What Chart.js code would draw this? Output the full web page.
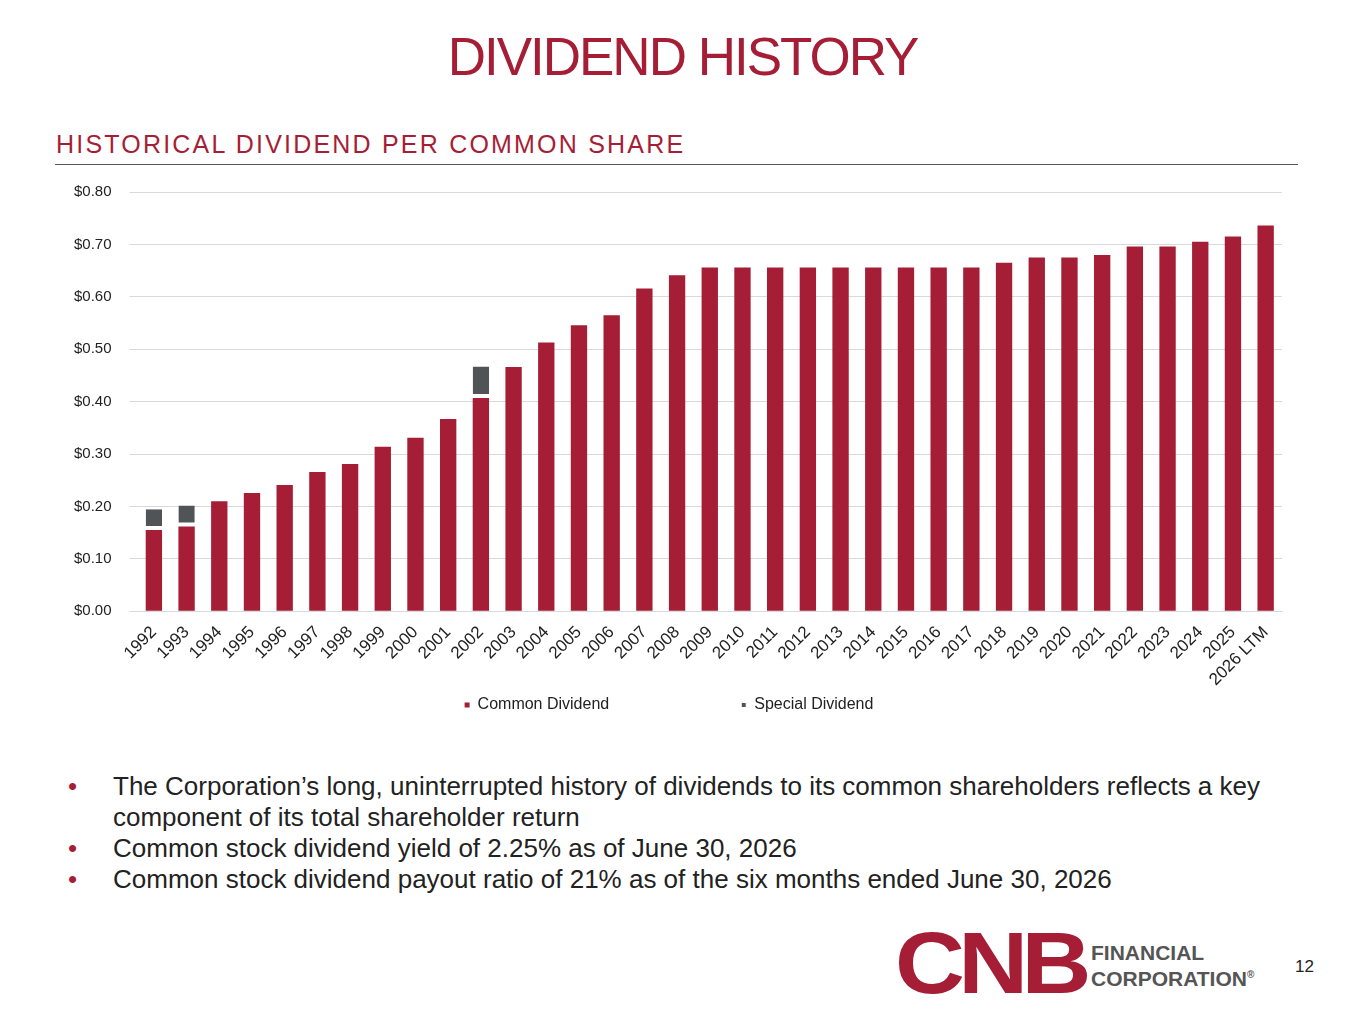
<!DOCTYPE html>
<html>
<head>
<meta charset="utf-8">
<script src="https://cdn.jsdelivr.net/npm/chart.js@4.4.1/dist/chart.umd.min.js"></script>
<style>
  body { margin: 0; width: 1365px; height: 1024px; background: #fff; font-family: "Liberation Sans", Arial, sans-serif; position: relative; overflow: hidden; }
  h1 { position: absolute; top: 26px; left: 0; width: 1365px; text-align: center; margin: 0; font-size: 53px; font-weight: normal; color: #a51e36; letter-spacing: -2px; }
  .sub { position: absolute; top: 130px; left: 56px; font-size: 25px; color: #a51e36; letter-spacing: 2.2px; }
  .rule { position: absolute; top: 164px; left: 55px; width: 1243px; border-top: 1.5px solid #555; }
  #wrap { position: absolute; top: 165px; left: 56px; width: 1232px; height: 558px; }
  ul { position: absolute; top: 771px; left: 68px; width: 1240px; margin: 0; padding: 0; list-style: none; font-size: 26px; color: #222; line-height: 31px; }
  li { position: relative; padding-left: 45px; }
  li::before { content: "•"; position: absolute; left: 0; color: #a51e36; }
  .logo { position: absolute; top: 912px; left: 895px; }
  .cnb { font-size: 88px; font-weight: bold; color: #a51e36; letter-spacing: -6px; display: inline-block; transform: scaleX(1.1); transform-origin: left; }
  .fc { position: absolute; left: 196px; top: 30px; font-size: 21px; color: #555; line-height: 22px; font-weight: bold; }
  .pg { position: absolute; top: 957px; left: 1295px; font-size: 17px; color: #222; }
</style>
</head>
<body>
<h1>DIVIDEND HISTORY</h1>
<div class="sub">HISTORICAL DIVIDEND PER COMMON SHARE</div>
<div class="rule"></div>
<div id="wrap"><canvas id="divChart"></canvas></div>
<ul>
  <li>The Corporation’s long, uninterrupted history of dividends to its common shareholders reflects a key component of its total shareholder return</li>
  <li>Common stock dividend yield of 2.25% as of June 30, 2026</li>
  <li>Common stock dividend payout ratio of 21% as of the six months ended June 30, 2026</li>
</ul>
<div class="logo"><span class="cnb">CNB</span><div class="fc">FINANCIAL<br>CORPORATION<sup style="font-size:10px">®</sup></div></div>
<div class="pg">12</div>
<script>
const years = ['1992', '1993', '1994', '1995', '1996', '1997', '1998', '1999', '2000', '2001', '2002', '2003', '2004', '2005', '2006', '2007', '2008', '2009', '2010', '2011', '2012', '2013', '2014', '2015', '2016', '2017', '2018', '2019', '2020', '2021', '2022', '2023', '2024', '2025', '2026 LTM'];
const commonDividend = [0.155, 0.162, 0.21, 0.226, 0.241, 0.266, 0.281, 0.314, 0.331, 0.367, 0.407, 0.466, 0.513, 0.546, 0.565, 0.616, 0.641, 0.656, 0.656, 0.656, 0.656, 0.656, 0.656, 0.656, 0.656, 0.656, 0.665, 0.675, 0.675, 0.68, 0.696, 0.696, 0.705, 0.715, 0.736];
const specialDividend = [0.04, 0.04, 0, 0, 0, 0, 0, 0, 0, 0, 0.06, 0, 0, 0, 0, 0, 0, 0, 0, 0, 0, 0, 0, 0, 0, 0, 0, 0, 0, 0, 0, 0, 0, 0, 0];

Chart.defaults.font.family = '"Liberation Sans", Arial, sans-serif';
Chart.defaults.color = '#222';

const ctx = document.getElementById('divChart').getContext('2d');
new Chart(ctx, {
    type: 'bar',
    data: {
        labels: years,
        datasets: [{
            label: 'Common Dividend',
            data: commonDividend,
            backgroundColor: '#a51e36',
            borderWidth: 0,
            categoryPercentage: 0.5,
            barPercentage: 1
        }, {
            label: 'Special Dividend',
            data: specialDividend,
            backgroundColor: '#505457',
            borderColor: '#fff',
            borderWidth: { bottom: 4, top: 0, left: 0, right: 0 },
            borderSkipped: false,
            categoryPercentage: 0.5,
            barPercentage: 1
        }]
    },
    options: {
        responsive: true,
        maintainAspectRatio: false,
        animation: false,
        layout: { padding: { right: 6 } },
        scales: {
            x: {
                stacked: true,
                grid: { display: false },
                border: { color: '#d9d9d9' },
                ticks: { maxRotation: 45, minRotation: 45, font: { size: 17 }, autoSkip: false }
            },
            y: {
                stacked: true,
                min: 0,
                max: 0.8,
                grid: { color: '#d9d9d9' },
                border: { display: false },
                ticks: {
                    stepSize: 0.1,
                    padding: 18,
                    font: { size: 15 },
                    callback: v => '$' + v.toFixed(2)
                }
            }
        },
        plugins: {
            legend: {
                position: 'bottom',
                labels: {
                    usePointStyle: true, pointStyle: 'rect', boxWidth: 5, boxHeight: 5, padding: 4, font: { size: 16 },
                    generateLabels: chart => Chart.defaults.plugins.legend.labels.generateLabels(chart).map((l, i) => {
                        if (i === 0) l.text = l.text + '\u2003\u2003\u2003\u2003\u2003\u2003\u2003\u2003';
                        return l;
                    })
                }
            },
            tooltip: { enabled: false }
        }
    }
});
</script>
</body>
</html>
